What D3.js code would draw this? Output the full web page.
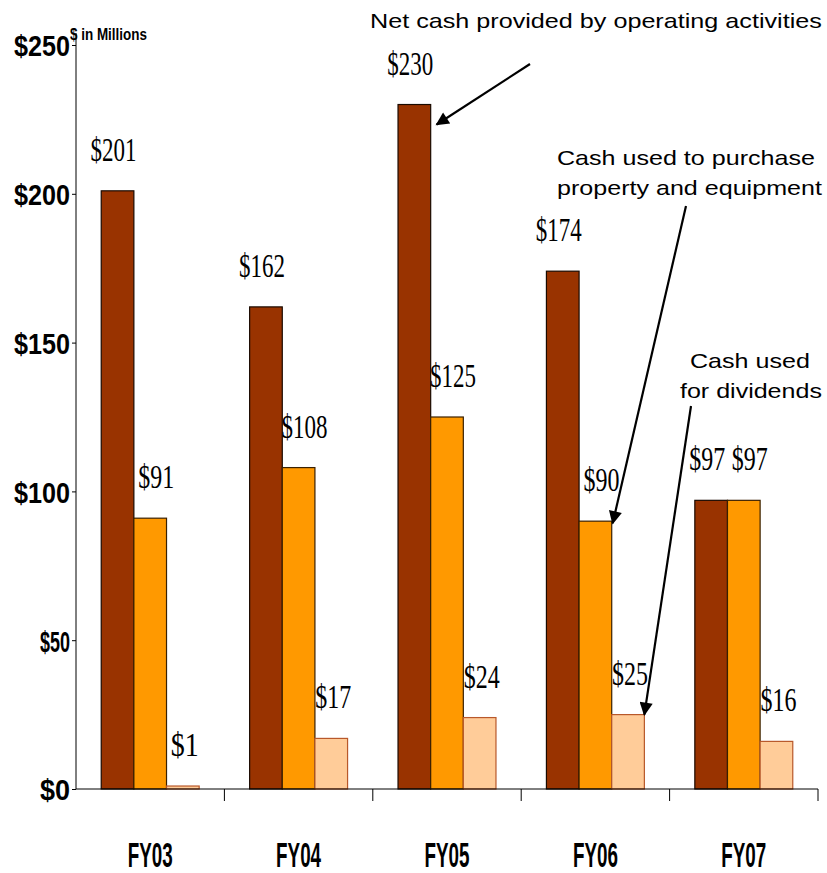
<!DOCTYPE html>
<html>
<head>
<meta charset="utf-8">
<script src="https://cdn.jsdelivr.net/npm/d3@7"></script>
<style>
  html, body { margin: 0; padding: 0; background: #fff; }
  svg { display: block; }
</style>
</head>
<body>
<svg id="chart" width="827" height="873"></svg>
<script>
// Cash flow figures, $ in millions
const categories = ["FY03", "FY04", "FY05", "FY06", "FY07"];
const operating = [201, 162, 230, 174, 97];   // net cash provided by operating activities
const capex = [91, 108, 125, 90, 97];         // cash used to purchase property and equipment
const dividends = [1, 17, 24, 25, 16];        // cash used for dividends
const yTicks = [0, 50, 100, 150, 200, 250];
const seriesNames = ["operating", "capex", "dividends"];

const seriesValues = { operating, capex, dividends };
const fills = { operating: "#993300", capex: "#FF9900", dividends: "#FFCC99" };
const strokes = { operating: "#1a0a00", capex: "#3a2000", dividends: "#B8582A" };
const labelShift = { operating: -4, capex: 6, dividends: 2 };

const svg = d3.select("#chart");
const plotLeft = 76, plotRight = 818, plotTop = 45, plotBottom = 789;

const y = d3.scaleLinear().domain([0, 250]).range([plotBottom, plotTop]);
const x0 = d3.scaleBand().domain(categories).range([plotLeft, plotRight])
  .paddingInner(0.34).paddingOuter(0.17);
const x1 = d3.scaleBand().domain(seriesNames).range([0, x0.bandwidth()]);

const rows = categories.map((c, i) => ({
  cat: c,
  vals: seriesNames.map(s => ({ key: s, value: seriesValues[s][i] }))
}));

// horizontally squeeze a text node to a given width (keeps its bbox honest)
function squeeze(sel, widthFn, xFn, yFn) {
  sel.each(function (d) {
    const natural = this.getComputedTextLength() || 1;
    const sx = widthFn(d) / natural;
    d3.select(this).attr("transform", `translate(${xFn(d)},${yFn(d)}) scale(${sx},1)`);
  });
}

// bars
const groups = svg.append("g").selectAll("g").data(rows).join("g")
  .attr("transform", d => `translate(${x0(d.cat)},0)`);

groups.selectAll("rect").data(d => d.vals).join("rect")
  .attr("x", d => x1(d.key))
  .attr("y", d => y(d.value))
  .attr("width", x1.bandwidth())
  .attr("height", d => y(0) - y(d.value))
  .attr("fill", d => fills[d.key])
  .attr("stroke", d => strokes[d.key])
  .attr("stroke-width", 1.2);

// value labels
const labelWidth = s => s.length >= 4 ? 46 : (s.length === 3 ? 36 : 28);
const valueLabels = groups.selectAll("text.val").data(d => d.vals).join("text")
  .attr("class", "val")
  .attr("text-anchor", "middle")
  .attr("font-family", "Liberation Serif, serif")
  .attr("font-size", 34)
  .attr("fill", "#000")
  .text(d => "$" + d.value);
squeeze(valueLabels,
  d => labelWidth("$" + d.value),
  d => x1(d.key) + x1.bandwidth() / 2 + labelShift[d.key],
  d => y(d.value) - 30);

// y axis
const yAxis = svg.append("g")
  .attr("transform", `translate(${plotLeft},0)`)
  .call(d3.axisLeft(y).tickValues(yTicks).tickFormat(d => "$" + d)
    .tickSize(4).tickSizeOuter(0).tickPadding(3));
yAxis.select(".domain").attr("stroke", "#000").attr("d", `M0,${plotBottom}V${plotTop - 12}`);
const yLabels = yAxis.selectAll(".tick text")
  .attr("font-family", "Liberation Sans, Arial, sans-serif")
  .attr("font-weight", "bold")
  .attr("font-size", 30)
  .attr("fill", "#000")
  .attr("x", 0)
  .attr("dy", "0.36em");
squeeze(yLabels, d => String(d).length >= 3 ? 56 : 30, () => -6, () => 0);

const unitLabel = svg.append("text")
  .datum("$ in Millions")
  .attr("font-family", "Liberation Sans, Arial, sans-serif")
  .attr("font-weight", "bold")
  .attr("font-size", 17)
  .text(d => d);
squeeze(unitLabel, () => 77, () => 70, () => 40);

// x axis
const xAxis = svg.append("g")
  .attr("transform", `translate(0,${plotBottom})`)
  .call(d3.axisBottom(x0).tickSize(0).tickPadding(53).tickSizeOuter(0));
xAxis.select(".domain").attr("stroke", "#000").attr("d", `M${plotLeft},0H${plotRight}`);
const xLabels = xAxis.selectAll(".tick text")
  .attr("font-family", "Liberation Sans, Arial, sans-serif")
  .attr("font-weight", "bold")
  .attr("font-size", 35)
  .attr("fill", "#000")
  .attr("y", 0)
  .attr("dy", "0.71em");
squeeze(xLabels, () => 45, () => 0, () => 53);

// category separators
const bounds = d3.range(1, categories.length + 1)
  .map(i => plotLeft + i * (plotRight - plotLeft) / categories.length);
svg.append("g").selectAll("line").data(bounds).join("line")
  .attr("x1", d => d).attr("x2", d => d)
  .attr("y1", plotBottom).attr("y2", plotBottom + 12)
  .attr("stroke", "#000");

// annotations
const defs = svg.append("defs");
defs.append("marker")
  .attr("id", "arrowhead")
  .attr("viewBox", "0 0 10 10")
  .attr("refX", 9).attr("refY", 5)
  .attr("markerWidth", 7).attr("markerHeight", 6)
  .attr("markerUnits", "strokeWidth")
  .attr("orient", "auto")
  .append("path").attr("d", "M0,0L10,5L0,10Z").attr("fill", "#000");

const noteFont = "Liberation Sans, Arial, sans-serif";
const notes = [
  { text: "Net cash provided by operating activities", x: 370, y: 28, w: 452 },
  { text: "Cash used to purchase", x: 557, y: 165, w: 258 },
  { text: "property and equipment", x: 557, y: 195, w: 265 },
  { text: "Cash used", x: 690, y: 368, w: 120 },
  { text: "for dividends", x: 680, y: 398, w: 142 }
];
const noteText = svg.append("g").selectAll("text").data(notes).join("text")
  .attr("font-family", noteFont)
  .attr("font-size", 21)
  .attr("fill", "#000")
  .text(d => d.text);
squeeze(noteText, d => d.w, d => d.x, d => d.y);

// arrows point at the bars they describe
const arrowTargets = [
  { from: [530, 64], series: "operating", cat: "FY05", dx: 6, dy: 20 },
  { from: [686, 206], series: "capex", cat: "FY06", dx: 1, dy: 2 },
  { from: [691, 406], series: "dividends", cat: "FY06", dx: 0, dy: 0 }
];
arrowTargets.forEach(a => {
  const i = categories.indexOf(a.cat);
  const tx = x0(a.cat) + x1(a.series) + x1.bandwidth() + a.dx;
  const ty = y(seriesValues[a.series][i]) + a.dy;
  svg.append("line")
    .attr("x1", a.from[0]).attr("y1", a.from[1])
    .attr("x2", tx).attr("y2", ty)
    .attr("stroke", "#000").attr("stroke-width", 2.2)
    .attr("marker-end", "url(#arrowhead)");
});
</script>
</body>
</html>
